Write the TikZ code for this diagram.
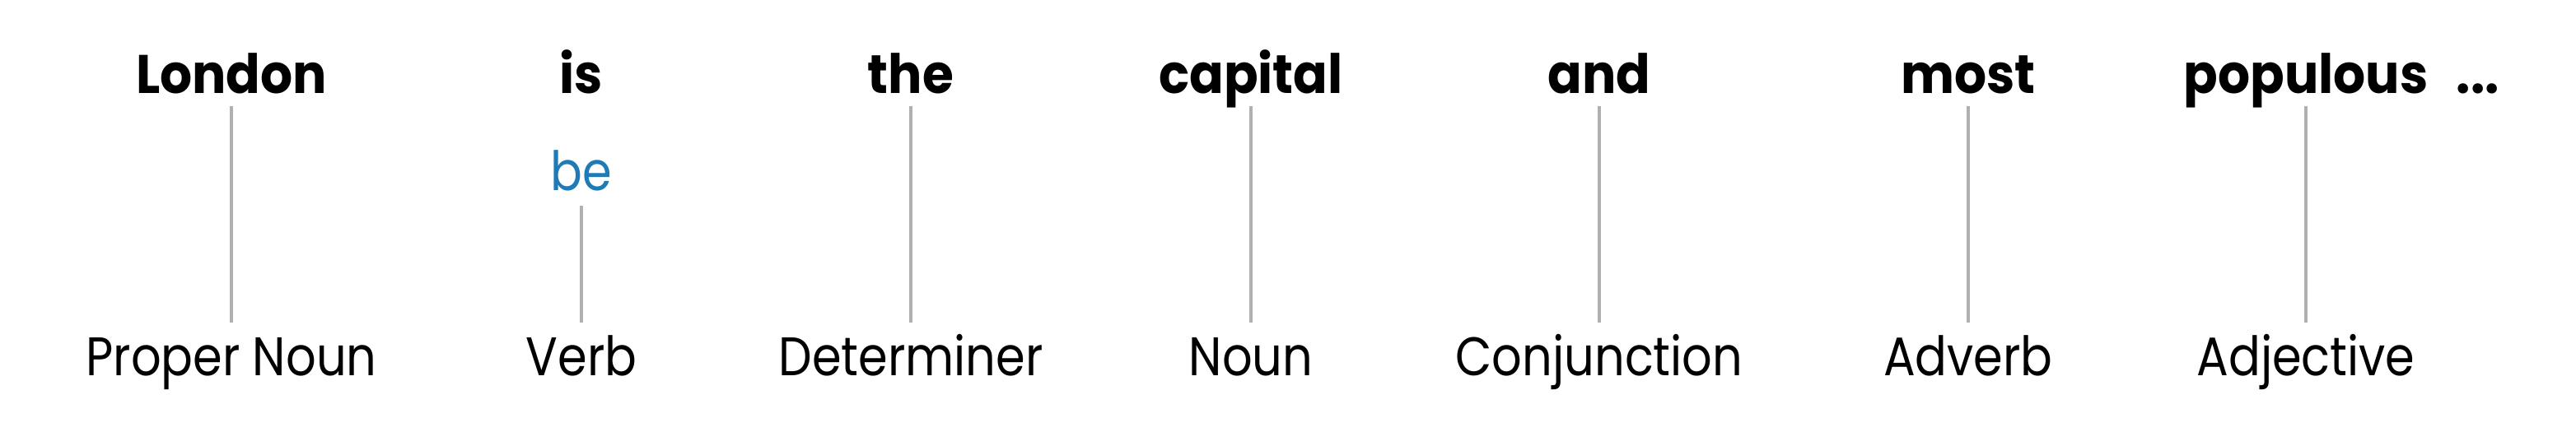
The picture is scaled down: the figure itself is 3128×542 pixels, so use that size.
\documentclass[tikz,border=0pt]{standalone}
\usepackage{fontspec}
\setmainfont{Poppins}
\newfontfamily\wordfont{Poppins}[FakeStretch=0.93]
\newfontfamily\tagfont{Poppins}[FakeStretch=0.87]
\definecolor{lemblue}{RGB}{31,123,182}
\definecolor{linegray}{RGB}{176,176,176}
\begin{document}
\begin{tikzpicture}[x=0.25pt,y=-0.25pt,
  word/.style={font=\wordfont\fontsize{16.5}{18}\selectfont\bfseries, inner sep=0pt, anchor=base, text depth=0pt},
  lemma/.style={font=\tagfont\fontsize{16.5}{18}\selectfont, text=lemblue, inner sep=0pt, anchor=base, text depth=0pt},
  postag/.style={font=\tagfont\fontsize{16.5}{18}\selectfont, inner sep=0pt, anchor=base, text height=11.5pt},
  link/.style={draw=linegray, line width=0.9pt, shorten <=3.6pt, shorten >=4.5pt}]
\useasboundingbox (0,0) rectangle (3128,542);
\node[word] (w1) at (281,114) {London};
\node[word] (w2) at (706,114) {is};
\node[lemma] (l2) at (706,232) {be};
\node[word] (w3) at (1106,114) {the};
\node[word] (w4) at (1519,114) {capital};
\node[word] (w5) at (1942,114) {and};
\node[word] (w6) at (2390,114) {most};
\node[word] (w7) at (2800,114) {populous};
\node[word, anchor=base west] (dots) at (2982,114) {...};
\node[postag] (p1) at (281,457) {Proper Noun};
\node[postag] (p2) at (706,457) {Verb};
\node[postag] (p3) at (1106,457) {Determiner};
\node[postag] (p4) at (1519,457) {Noun};
\node[postag] (p5) at (1942,457) {Conjunction};
\node[postag] (p6) at (2390,457) {Adverb};
\node[postag] (p7) at (2800,457) {Adjective};
\draw[link] (w1.south) -- (p1.north);
\draw[link, shorten <=4.25pt] (l2.south) -- (p2.north);
\draw[link] (w3.south) -- (p3.north);
\draw[link] (w4.south) -- (p4.north);
\draw[link] (w5.south) -- (p5.north);
\draw[link] (w6.south) -- (p6.north);
\draw[link] (w7.south) -- (p7.north);
\end{tikzpicture}
\end{document}
